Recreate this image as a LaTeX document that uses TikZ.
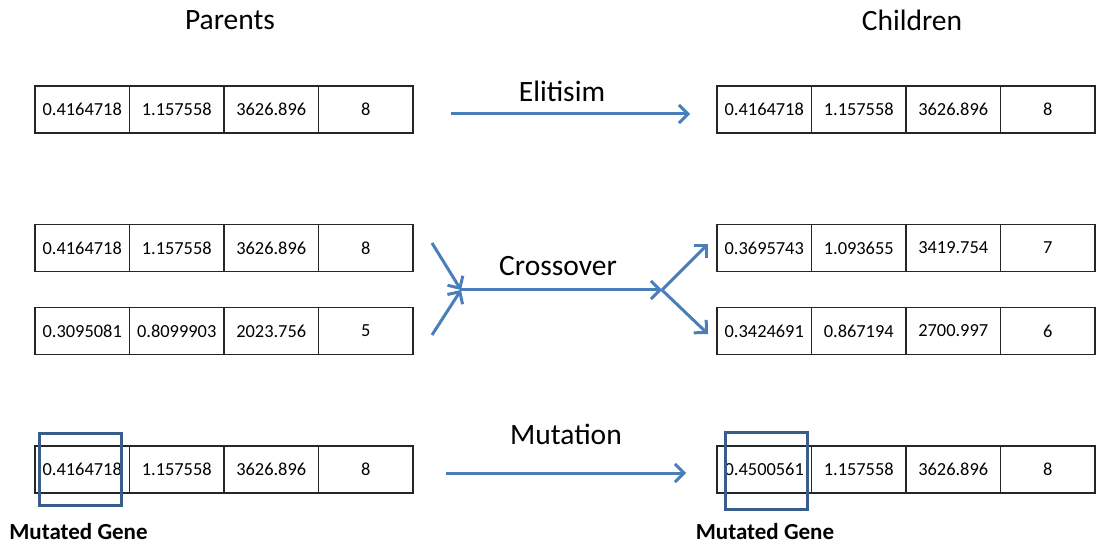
\documentclass[tikz,border=0pt]{standalone}
\usepackage{fontspec}
\setmainfont{Carlito}
\usetikzlibrary{arrows.meta}
\definecolor{flow}{RGB}{74,126,187}
\definecolor{markbox}{RGB}{56,93,138}
\tikzset{
  cell/.style={draw=black!85, line width=1.6pt, minimum width=94.5pt, minimum height=47pt,
    inner sep=0pt, font=\fontsize{18.4}{21}\selectfont},
  heading/.style={font=\fontsize{29.5}{33}\selectfont},
  oplabel/.style={font=\fontsize{29.5}{33}\selectfont},
  genelabel/.style={font=\bfseries\fontsize{23}{26}\selectfont},
  flowarrow/.style={draw=flow, line width=3pt, -{Straight Barb[length=9pt,width=18pt,line width=3pt]}},
  genebox/.style={draw=markbox, line width=3pt, minimum width=82pt, inner sep=0pt},
}
% one chromosome: prefix, left edge, vertical centre, four gene values
\newcommand\generow[4]{%
  \foreach \v [count=\i] in {#4} {
    \node[cell] (#1-\i) at ({#2+47.25+(\i-1)*94.5},#3) {\v};
  }%
}
\begin{document}
\begin{tikzpicture}[x=1pt,y=-1pt]
\useasboundingbox (0,0) rectangle (1096,545);

\node[heading] (parents) at (230,20) {Parents};
\node[heading] (children) at (912,20) {Children};

% parents
\generow{p1}{35}{109.5}{0.4164718,1.157558,3626.896,8}
\generow{p2}{35}{248}{0.4164718,1.157558,3626.896,8}
\generow{p3}{35}{331}{0.3095081,0.8099903,2023.756,5}
\generow{p4}{35}{469.5}{0.4164718,1.157558,3626.896,8}

% children
\generow{c1}{717}{109.5}{0.4164718,1.157558,3626.896,8}
\generow{c2}{717}{248}{0.3695743,1.093655,3419.754,7}
\generow{c3}{717}{331}{0.3424691,0.867194,2700.997,6}
\generow{c4}{717}{469.5}{0.4500561,1.157558,3626.896,8}

% mutated gene markers
\node[genebox, minimum height=71pt] (mbox1) at (80,469.5) {};
\node[genebox, minimum height=76pt] (mbox2) at (766,471) {};
\node[genelabel] (mlabel1) at (78.5,532) {Mutated Gene};
\node[genelabel] (mlabel2) at (765,532) {Mutated Gene};

% elitism
\coordinate (eS) at (451,114);
\coordinate (eE) at (690,114);
\draw[flowarrow] (eS) -- (eE);
\node[oplabel] (elit) at (562,91) {Elitisim};

% crossover
\coordinate (xA) at (432,243);
\coordinate (xB) at (432,335);
\coordinate (xJ) at (461,290);
\coordinate (xS) at (662,290);
\coordinate (xC) at (708,244);
\coordinate (xD) at (708,334);
\draw[flowarrow] (xA) -- (xJ);
\draw[flowarrow] (xB) -- (xJ);
\draw[flowarrow] (xJ) -- (xS);
\draw[flowarrow] (xS) -- (xC);
\draw[flowarrow] (xS) -- (xD);
\node[oplabel] (cross) at (558,266) {Crossover};

% mutation
\coordinate (mS) at (446,473);
\coordinate (mE) at (686,473);
\draw[flowarrow] (mS) -- (mE);
\node[oplabel] (mut) at (566,434) {Mutation};
\end{tikzpicture}
\end{document}
